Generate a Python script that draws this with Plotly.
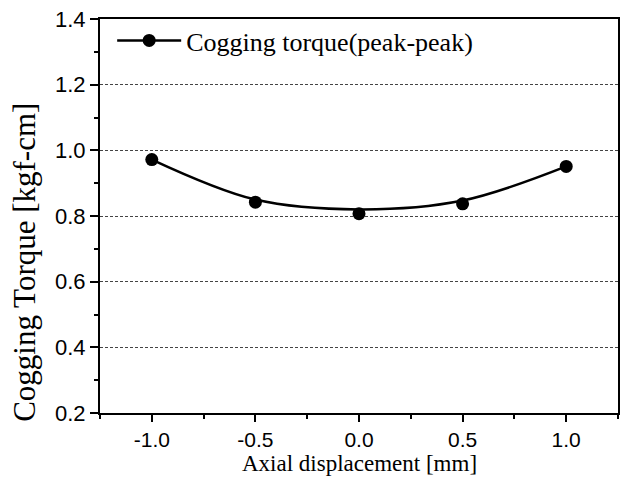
import plotly.graph_objects as go

# data
displacement = [-1.0, -0.5, 0.0, 0.5, 1.0]
torque_pp = [0.972, 0.842, 0.807, 0.837, 0.951]
fit_curve = [0.972, 0.850, 0.820, 0.847, 0.951]
series_name = "Cogging torque(peak-peak)"
x_ticks = [-1.0, -0.5, 0.0, 0.5, 1.0]
x_tick_text = ["-1.0", "-0.5", "0.0", "0.5", "1.0"]
y_ticks = [0.2, 0.4, 0.6, 0.8, 1.0, 1.2, 1.4]
y_tick_text = ["0.2", "0.4", "0.6", "0.8", "1.0", "1.2", "1.4"]
x_title = "Axial displacement [mm]"
y_title = "Cogging Torque [kgf-cm]"

fig = go.Figure()
fig.add_trace(go.Scatter(x=displacement, y=fit_curve, mode="lines",
                         line=dict(color="black", width=2.5, shape="spline", smoothing=1.0),
                         showlegend=False, hoverinfo="skip"))
fig.add_trace(go.Scatter(x=displacement, y=torque_pp, mode="markers",
                         marker=dict(color="black", size=13),
                         showlegend=False))
fig.add_trace(go.Scatter(x=[None], y=[None], mode="lines+markers", name=series_name,
                         line=dict(color="black", width=2.5),
                         marker=dict(color="black", size=13)))

serif = "Liberation Serif, Times New Roman, serif"
sans = "Liberation Sans, Arial, sans-serif"

fig.update_layout(
    width=627, height=477,
    margin=dict(l=100, r=7, t=18, b=64),
    paper_bgcolor="white", plot_bgcolor="white",
    showlegend=True,
    legend=dict(x=0.0235, y=1.005, xanchor="left", yanchor="top",
                bgcolor="rgba(0,0,0,0)", borderwidth=0,
                font=dict(family=serif, size=26, color="black"),
                itemwidth=64, tracegroupgap=0),
    xaxis=dict(range=[-1.25, 1.25], tickvals=x_ticks, ticktext=x_tick_text,
               ticks="outside", ticklen=7, tickwidth=2, tickcolor="black",
               ticklabelstandoff=0,
               minor=dict(dtick=0.25, ticks="outside", ticklen=4, tickwidth=2, tickcolor="black", showgrid=False),
               showline=True, linecolor="black", linewidth=2, mirror=True,
               showgrid=False, zeroline=False,
               tickfont=dict(family=sans, size=21, color="black")),
    yaxis=dict(range=[0.2, 1.4], tickvals=y_ticks, ticktext=y_tick_text,
               ticks="outside", ticklen=8, tickwidth=2, tickcolor="black",
               minor=dict(dtick=0.1, ticks="outside", ticklen=4, tickwidth=2, tickcolor="black", showgrid=False),
               showline=True, linecolor="black", linewidth=2, mirror=True,
               showgrid=True, gridcolor="#444", gridwidth=1, griddash="3px,2px",
               zeroline=False,
               tickfont=dict(family=sans, size=22, color="black")),
    annotations=[
        dict(text=x_title, xref="paper", yref="paper", x=0.5, y=-0.1291,
             xanchor="center", yanchor="middle", showarrow=False,
             font=dict(family=serif, size=23, color="black")),
        dict(text=y_title, xref="paper", yref="paper", x=-0.146, y=0.382,
             xanchor="center", yanchor="middle", showarrow=False, textangle=-90,
             font=dict(family=serif, size=31, color="black")),
    ],
)

fig.write_html("out.html", config={"displayModeBar": False},
               post_script="document.body.style.margin='0';")
